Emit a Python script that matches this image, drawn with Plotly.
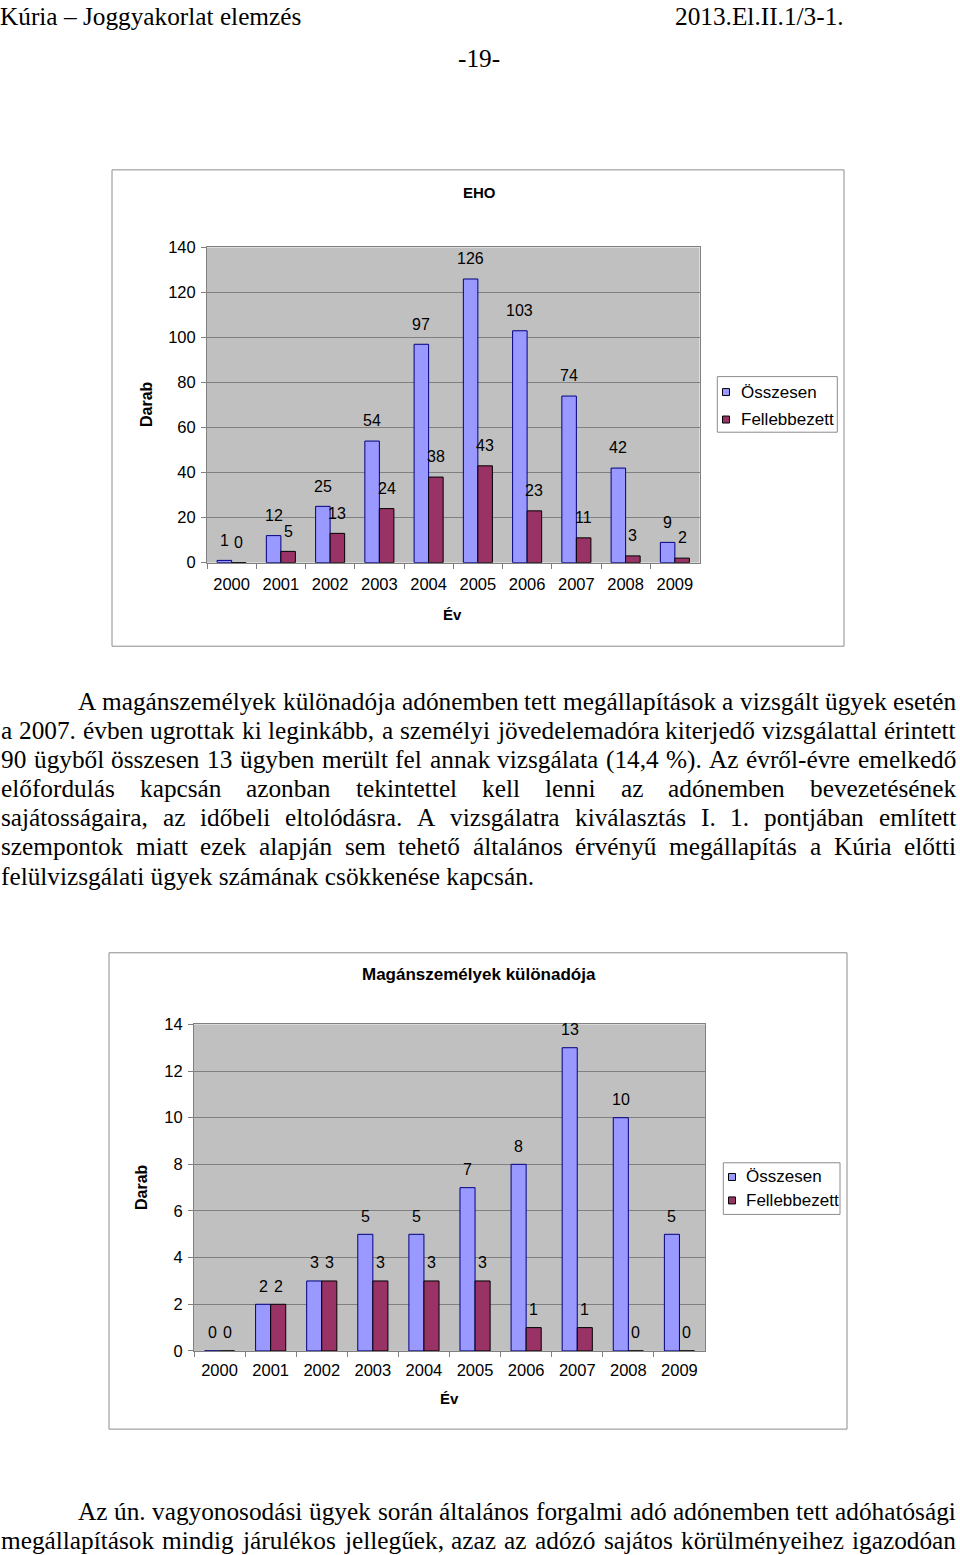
import plotly.graph_objects as go

W, H = 960, 1555

# ---------------- data ----------------
years = ["2000", "2001", "2002", "2003", "2004", "2005", "2006", "2007", "2008", "2009"]
eho_osszesen = [1, 12, 25, 54, 97, 126, 103, 74, 42, 9]
eho_fellebbezett = [0, 5, 13, 24, 38, 43, 23, 11, 3, 2]
mszk_osszesen = [0, 2, 3, 5, 5, 7, 8, 13, 10, 5]
mszk_fellebbezett = [0, 2, 3, 3, 3, 3, 1, 1, 0, 0]

series_names = ["Összesen", "Fellebbezett"]
chart_titles = ["EHO", "Magánszemélyek különadója"]
y_title = "Darab"
x_title = "Év"
eho_yticks = [0, 20, 40, 60, 80, 100, 120, 140]
mszk_yticks = [0, 2, 4, 6, 8, 10, 12, 14]

header_left = "Kúria – Joggyakorlat elemzés"
header_right = "2013.El.II.1/3-1."
page_number = "-19-"
paragraph1_lines = [
    "A magánszemélyek különadója adónemben tett megállapítások a vizsgált ügyek esetén",
    "a 2007. évben ugrottak ki leginkább, a személyi jövedelemadóra kiterjedő vizsgálattal érintett",
    "90 ügyből összesen 13 ügyben merült fel annak vizsgálata (14,4 %). Az évről-évre emelkedő",
    "előfordulás kapcsán azonban tekintettel kell lenni az adónemben bevezetésének",
    "sajátosságaira, az időbeli eltolódásra. A vizsgálatra kiválasztás I. 1. pontjában említett",
    "szempontok miatt ezek alapján sem tehető általános érvényű megállapítás a Kúria előtti",
    "felülvizsgálati ügyek számának csökkenése kapcsán.",
]
paragraph2_lines = [
    "Az ún. vagyonosodási ügyek során általános forgalmi adó adónemben tett adóhatósági",
    "megállapítások mindig járulékos jellegűek, azaz az adózó sajátos körülményeihez igazodóan",
]

# ---------------- styles ----------------
BLUE = "#9999FF"
BLUE_EDGE = "#000080"
MAROON = "#993366"
MAROON_EDGE = "#000000"
PLOT_BG = "#C0C0C0"
GRID = "#808080"
FRAME = "#8C8C8C"
SANS = "Liberation Sans"
SERIF = "Liberation Serif"
SERIF_SIZE = 25.3
BARGAP = 0.41

# the photographed page maps figure y to picture y as  y_pic = V_OFF + V_SCALE * y_fig
V_SCALE = 0.9898
V_OFF = 7.9


def fx(p):
    return p / W


def fy(p):
    return 1 - ((p - V_OFF) / V_SCALE) / H


def dpx(d):
    return d / V_SCALE


# Times New Roman / Liberation Serif advance widths (1/1000 em)
TNR = {
    " ": 250, ".": 250, ",": 250, "-": 333, "–": 500, "(": 333, ")": 333, "%": 833, "/": 278,
    "a": 444, "b": 500, "c": 444, "d": 500, "e": 444, "f": 333, "g": 500, "h": 500, "i": 278,
    "j": 278, "k": 500, "l": 278, "m": 778, "n": 500, "o": 500, "p": 500, "q": 500, "r": 333,
    "s": 389, "t": 278, "u": 500, "v": 500, "w": 722, "x": 500, "y": 500, "z": 444,
    "á": 444, "é": 444, "í": 278, "ó": 500, "ö": 500, "ő": 500, "ú": 500, "ü": 500, "ű": 500,
    "A": 722, "B": 667, "C": 667, "D": 722, "E": 611, "F": 556, "G": 722, "H": 722, "I": 333,
    "J": 389, "K": 722, "L": 611, "M": 889, "N": 722, "O": 722, "P": 556, "R": 667, "S": 556,
    "T": 611, "U": 722, "V": 722, "Z": 611, "Ú": 722, "Á": 722, "É": 611, "Ö": 722,
}


def tw(s, size):
    return sum(TNR.get(c, 500) for c in s) * size / 1000.0


serif_font = dict(family=SERIF, size=SERIF_SIZE, color="black")


def paper_text(text, x, y, font, xanchor="center", yanchor="middle", angle=0):
    return dict(text=text, x=fx(x), y=fy(y), xref="paper", yref="paper",
                xanchor=xanchor, yanchor=yanchor, showarrow=False, textangle=angle,
                borderpad=0, borderwidth=0, font=font)


def text_line(line, x0, x1, y, justify=True):
    if not justify:
        return [paper_text(line, x0, y, serif_font, xanchor="left")]
    anns = []
    words = line.split(" ")
    widths = [tw(w, SERIF_SIZE) for w in words]
    gap = (x1 - x0 - sum(widths)) / (len(words) - 1)
    x = x0
    for w, wd in zip(words, widths):
        anns.append(paper_text(w, x, y, serif_font, xanchor="left"))
        x += wd + gap
    return anns


# ---------------- figure ----------------
fig = go.Figure()

for xa, ya, tot, app in [("x", "y", eho_osszesen, eho_fellebbezett),
                         ("x2", "y2", mszk_osszesen, mszk_fellebbezett)]:
    fig.add_trace(go.Bar(x=years, y=tot, name=series_names[0], xaxis=xa, yaxis=ya,
                         marker=dict(color=BLUE, line=dict(color=BLUE_EDGE, width=1)),
                         showlegend=False, hoverinfo="skip"))
    fig.add_trace(go.Bar(x=years, y=app, name=series_names[1], xaxis=xa, yaxis=ya,
                         marker=dict(color=MAROON, line=dict(color=MAROON_EDGE, width=1)),
                         showlegend=False, hoverinfo="skip"))

tick_font = dict(family=SANS, size=16.5, color="black")


def xaxis_cfg(domain, anchor, standoff):
    return dict(domain=domain, anchor=anchor, type="category", showgrid=False,
                showline=True, linecolor=GRID, linewidth=1, mirror=True,
                ticks="outside", tickson="boundaries", ticklen=5, tickcolor=GRID,
                tickfont=tick_font, ticklabelstandoff=standoff, fixedrange=True)


def yaxis_cfg(domain, anchor, rng, tv):
    return dict(domain=domain, anchor=anchor, range=rng, tickvals=tv, showgrid=True,
                gridcolor=GRID, gridwidth=1, zeroline=False, showline=True,
                linecolor=GRID, linewidth=1, mirror=True, ticks="outside", ticklen=5,
                tickcolor=GRID, tickfont=tick_font, ticklabelstandoff=2, fixedrange=True)


# plot areas (picture pixels)
c1 = dict(left=207, right=699.5, top=246.7, bottom=562.3)
c2 = dict(left=194, right=705, top=1024.7, bottom=1351.7)

fig.update_layout(
    width=W, height=H,
    margin=dict(l=0, r=0, t=0, b=0),
    paper_bgcolor="white",
    plot_bgcolor=PLOT_BG,
    barmode="group",
    bargap=BARGAP,
    bargroupgap=0,
    showlegend=False,
    xaxis=xaxis_cfg([fx(c1["left"]), fx(c1["right"])], "y", 7),
    yaxis=yaxis_cfg([fy(c1["bottom"]), fy(c1["top"])], "x", [0, 140], eho_yticks),
    xaxis2=xaxis_cfg([fx(c2["left"]), fx(c2["right"])], "y2", 4),
    yaxis2=yaxis_cfg([fy(c2["bottom"]), fy(c2["top"])], "x2", [0, 14], mszk_yticks),
)

anns = []
shapes = []

# data labels
label_font = dict(family=SANS, size=16, color="black")
for (xr, yr, vals, sign, dy, c) in [
    ("x", "y", eho_osszesen, -1, 20, c1),
    ("x", "y", eho_fellebbezett, 1, 20, c1),
    ("x2", "y2", mszk_osszesen, -1, 18, c2),
    ("x2", "y2", mszk_fellebbezett, 1, 18, c2),
]:
    cat_w = (c["right"] - c["left"]) / len(years)
    off = (1 - BARGAP) * cat_w / 4
    for j, v in enumerate(vals):
        anns.append(dict(x=j, y=v, xref=xr, yref=yr, text=str(v), showarrow=False,
                         xshift=sign * off, yshift=dpx(dy), xanchor="center", yanchor="middle",
                         font=label_font))


def bold(size):
    return dict(family=SANS, size=size, color="black")


# chart 1 texts
anns.append(paper_text("<b>%s</b>" % chart_titles[0], 479, 192, bold(15)))
anns.append(paper_text("<b>%s</b>" % y_title, 146, 403.5, bold(16), angle=-90))
anns.append(paper_text("<b>%s</b>" % x_title, 452.5, 614, bold(15)))
# chart 2 texts
anns.append(paper_text("<b>%s</b>" % chart_titles[1], 479, 975, bold(17)))
anns.append(paper_text("<b>%s</b>" % y_title, 142, 1187.5, bold(16), angle=-90))
anns.append(paper_text("<b>%s</b>" % x_title, 449.5, 1399, bold(15)))

# chart frames
for (x0, y0, x1, y1) in [(112, 169, 844, 646), (109, 953, 847, 1430)]:
    shapes.append(dict(type="rect", xref="paper", yref="paper", x0=fx(x0), x1=fx(x1),
                       y0=fy(y0), y1=fy(y1), line=dict(color=FRAME, width=1)))

# legends (drawn manually to match the original box layout)
legend_font = dict(family=SANS, size=17, color="black")
for box, sw_x, txt_x, rows in [
    ((717.3, 376, 837.3, 431.7), 726, 740.5, (391.5, 419)),
    ((723.3, 1163.3, 840, 1215), 732, 746, (1177.5, 1201)),
]:
    shapes.append(dict(type="rect", xref="paper", yref="paper", x0=fx(box[0]), x1=fx(box[2]),
                       y0=fy(box[1]), y1=fy(box[3]), line=dict(color=FRAME, width=1),
                       fillcolor="white"))
    for name, col, yy in [(series_names[0], BLUE, rows[0]), (series_names[1], MAROON, rows[1])]:
        shapes.append(dict(type="rect", xref="paper", yref="paper", x0=fx(sw_x - 3.5),
                           x1=fx(sw_x + 3.5), y0=fy(yy - 3.5), y1=fy(yy + 3.5),
                           fillcolor=col, line=dict(color="black", width=1)))
        anns.append(paper_text(name, txt_x, yy, legend_font, xanchor="left"))

# page header
anns.append(paper_text(header_left, 0, 15, serif_font, xanchor="left"))
anns.append(paper_text(header_right, 675, 15, serif_font, xanchor="left"))
anns.append(paper_text(page_number, 479, 57, serif_font))

# paragraph 1
p1_y = [701, 730, 759, 788, 817, 846, 876]
for i, (line, yy) in enumerate(zip(paragraph1_lines, p1_y)):
    x0 = 78 if i == 0 else 1
    anns += text_line(line, x0, 956, yy, justify=(i < len(paragraph1_lines) - 1))

# paragraph 2
p2_y = [1512, 1541]
for i, (line, yy) in enumerate(zip(paragraph2_lines, p2_y)):
    x0 = 78 if i == 0 else 1
    anns += text_line(line, x0, 956, yy, justify=True)

fig.update_layout(annotations=anns, shapes=shapes)

fig.write_html("out.html")
